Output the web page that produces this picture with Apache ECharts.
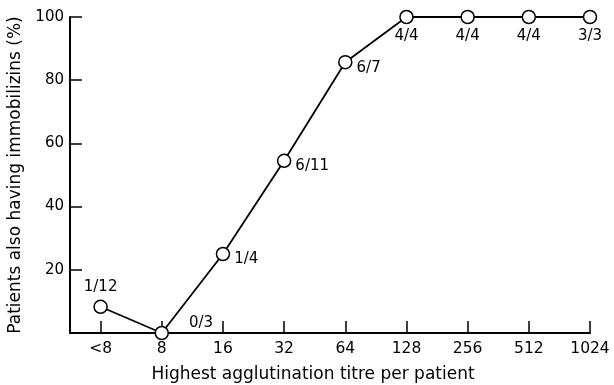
<!DOCTYPE html>
<html><head><meta charset="utf-8">
<script src="https://cdn.jsdelivr.net/npm/echarts@6/dist/echarts.min.js"></script>
<style>html,body{margin:0;padding:0;background:#fff}#c{width:614px;height:385px}</style>
</head><body><div id="c"></div>
<script>
var categories = ['<8', '8', '16', '32', '64', '128', '256', '512', '1024'];
var values = [8.3, 0, 25, 54.5, 85.7, 100, 100, 100, 100];
var fractions = ['1/12', '0/3', '1/4', '6/11', '6/7', '4/4', '4/4', '4/4', '3/3'];
var yTicks = [0, 20, 40, 60, 80, 100];

var font = 'DejaVu Sans';
var labelPos = [
  {position: 'top', distance: 5},
  {position: 'right', offset: [14, -10], distance: 6},
  {position: 'right', offset: [0, 5], distance: 4},
  {position: 'right', offset: [0, 5], distance: 4},
  {position: 'right', offset: [0, 6], distance: 4},
  {position: 'bottom', distance: 4},
  {position: 'bottom', distance: 4},
  {position: 'bottom', distance: 4},
  {position: 'bottom', distance: 4}
];
var data = values.map(function (v, i) {
  return {
    value: [i, v],
    label: Object.assign({show: true, formatter: fractions[i], color: '#000', fontSize: 15, fontFamily: font}, labelPos[i])
  };
});
var idx = categories.map(function (c, i) { return i; });

var chart = echarts.init(document.getElementById('c'), null, {renderer: 'canvas'});
chart.setOption({
  animation: false,
  grid: {left: 70, right: 24, top: 17, bottom: 52, containLabel: false, outerBoundsMode: 'none'},
  xAxis: {
    type: 'value', min: -0.5, max: 8,
    name: 'Highest agglutination titre per patient',
    nameLocation: 'middle', nameGap: 33,
    nameTextStyle: {color: '#000', fontSize: 17, fontFamily: font, padding: [0, 34, 0, 0]},
    axisLine: {show: true, lineStyle: {color: '#000', width: 2}},
    axisTick: {show: true, inside: true, length: 12, customValues: idx, lineStyle: {color: '#000', width: 1.5}},
    axisLabel: {customValues: idx, formatter: function (v) { return categories[Math.round(v)]; }, color: '#000', fontSize: 15.5, fontFamily: font, margin: 8},
    splitLine: {show: false}
  },
  yAxis: {
    type: 'value', min: 0, max: 100, interval: 20,
    name: 'Patients also having immobilizins (%)',
    nameLocation: 'middle', nameGap: 46, nameRotate: 90,
    nameTextStyle: {color: '#000', fontSize: 17, fontFamily: font},
    axisLine: {show: true, onZero: false, lineStyle: {color: '#000', width: 2}},
    axisTick: {show: true, inside: true, length: 12, customValues: yTicks, lineStyle: {color: '#000', width: 1.5}},
    axisLabel: {showMinLabel: false, color: '#000', fontSize: 15, fontFamily: font, margin: 6},
    splitLine: {show: false}
  },
  series: [{
    type: 'line',
    data: data,
    symbol: 'circle', symbolSize: 13,
    lineStyle: {color: '#000', width: 1.8},
    itemStyle: {color: '#fff', borderColor: '#000', borderWidth: 1.5},
    z: 3
  }]
});
</script></body></html>
